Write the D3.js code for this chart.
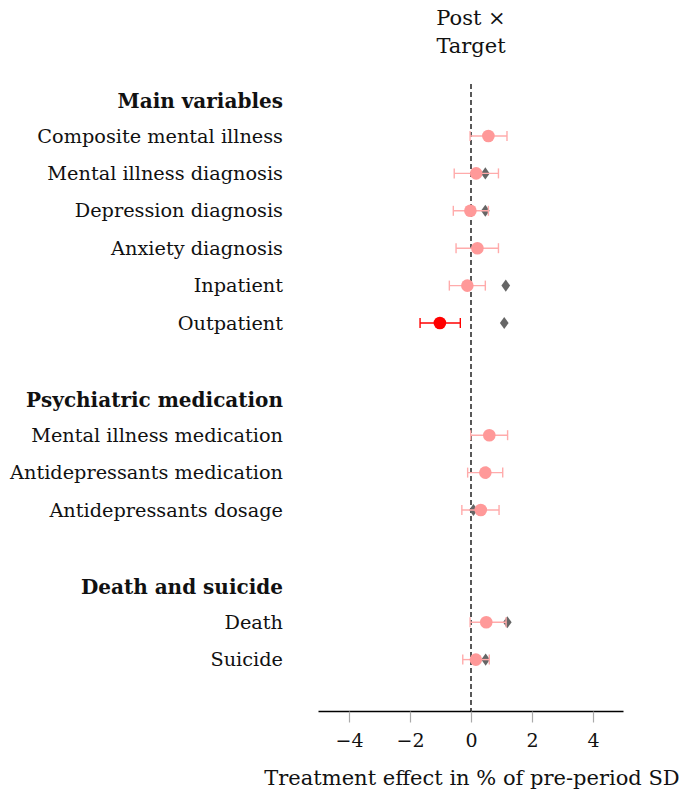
<!DOCTYPE html>
<html>
<head>
<meta charset="utf-8">
<script src="https://cdn.jsdelivr.net/npm/d3@7"></script>
<style>
  body { margin: 0; background: #fff; }
  text { font-family: "DejaVu Serif", serif; fill: #111; }
</style>
</head>
<body>
<div id="chart"></div>
<script>
// rows of the figure, top to bottom (headers are bold, blanks are spacers)
var labels = ["Main variables", "Composite mental illness", "Mental illness diagnosis",
  "Depression diagnosis", "Anxiety diagnosis", "Inpatient", "Outpatient", "",
  "Psychiatric medication", "Mental illness medication", "Antidepressants medication",
  "Antidepressants dosage", "", "Death and suicide", "Death", "Suicide"];
var isHeader = [1,0,0,0,0,0,0,0,1,0,0,0,0,1,0,0];

// Post x Target estimate with 95% CI, and comparison estimate (diamond)
var estimate = [null, 0.57, 0.17, -0.02, 0.21, -0.12, -1.02, null, null, 0.60, 0.47, 0.32, null, null, 0.50, 0.16];
var ciLow    = [null, -0.03, -0.55, -0.58, -0.49, -0.71, -1.67, null, null, -0.01, -0.11, -0.30, null, null, -0.03, -0.27];
var ciHigh   = [null, 1.18, 0.90, 0.57, 0.90, 0.47, -0.35, null, null, 1.20, 1.04, 0.92, null, null, 1.15, 0.60];
var diamond  = [null, null, 0.47, 0.47, null, 1.14, 1.09, null, null, null, 0.50, 0.08, null, null, 1.19, 0.48];
var significant = [0,0,0,0,0,0,1,0,0,0,0,0,0,0,0,0];

var xTicks = [-4, -2, 0, 2, 4];

var width = 683, height = 796;

var svg = d3.select("#chart").append("svg")
    .attr("width", width)
    .attr("height", height);

var x = d3.scaleLinear()
    .domain([-5, 5])
    .range([318.5, 623.5]);

var y = d3.scaleLinear()
    .domain([0, 15])
    .range([98.6, 659.6]);

var axisY = 711.5;

// dashed zero line
svg.append("line")
    .attr("x1", x(0)).attr("x2", x(0))
    .attr("y1", 84).attr("y2", axisY)
    .attr("stroke", "#000")
    .attr("stroke-width", 1.3)
    .attr("stroke-dasharray", "5,3");

// axis
var xAxis = d3.axisBottom(x)
    .tickValues(xTicks)
    .tickSize(11)
    .tickPadding(11)
    .tickFormat(function(d) { return d < 0 ? "\u2212" + Math.abs(d) : d; });

var gx = svg.append("g")
    .attr("transform", "translate(0," + axisY + ")")
    .call(xAxis);
gx.select(".domain").attr("stroke", "#000").attr("stroke-width", 1.3).attr("d", "M" + x(-5) + ",0H" + x(5));
gx.selectAll(".tick line").attr("stroke", "#aaa").attr("stroke-width", 1.2);
gx.selectAll(".tick text")
    .style("font-family", "DejaVu Serif, serif")
    .style("font-size", "19px")
    .attr("fill", "#111");

svg.append("text")
    .attr("x", 472).attr("y", 785)
    .attr("text-anchor", "middle")
    .style("font-size", "21px")
    .text("Treatment effect in % of pre-period SD");

// column title
svg.append("text")
    .attr("x", x(0)).attr("y", 25)
    .attr("text-anchor", "middle")
    .style("font-size", "21px")
    .text("Post \u00d7");
svg.append("text")
    .attr("x", x(0)).attr("y", 53)
    .attr("text-anchor", "middle")
    .style("font-size", "21px")
    .text("Target");

// row labels
svg.selectAll(".label")
    .data(labels)
  .enter().append("text")
    .attr("class", "label")
    .attr("x", 283)
    .attr("y", function(d, i) { return y(i) + (isHeader[i] ? 9.5 : 6.5); })
    .attr("text-anchor", "end")
    .style("font-size", function(d, i) { return isHeader[i] ? "20px" : "19.3px"; })
    .style("font-weight", function(d, i) { return isHeader[i] ? "bold" : "normal"; })
    .text(function(d) { return d; });

var rows = d3.range(labels.length).filter(function(i) { return estimate[i] != null; });

// diamonds
svg.selectAll(".diamond")
    .data(rows.filter(function(i) { return diamond[i] != null; }))
  .enter().append("path")
    .attr("class", "diamond")
    .attr("d", d3.symbol(d3.symbolDiamond).size(42))
    .attr("transform", function(i) { return "translate(" + x(diamond[i]) + "," + y(i) + ") scale(1.25,1)"; })
    .attr("fill", "#666");

function col(i, light) { return significant[i] ? "#ff0000" : (light ? "#ffabab" : "#ff9999"); }

// confidence intervals
var ci = svg.selectAll(".ci")
    .data(rows)
  .enter().append("g")
    .attr("class", "ci");
ci.append("line")
    .attr("x1", function(i) { return x(ciLow[i]); })
    .attr("x2", function(i) { return x(ciHigh[i]); })
    .attr("y1", function(i) { return y(i); })
    .attr("y2", function(i) { return y(i); })
    .attr("stroke", function(i) { return col(i, true); })
    .attr("stroke-width", 1.4);
ci.selectAll(".cap")
    .data(function(i) { return [[i, ciLow[i]], [i, ciHigh[i]]]; })
  .enter().append("line")
    .attr("x1", function(d) { return x(d[1]); })
    .attr("x2", function(d) { return x(d[1]); })
    .attr("y1", function(d) { return y(d[0]) - 5; })
    .attr("y2", function(d) { return y(d[0]) + 5; })
    .attr("stroke", function(d) { return col(d[0], true); })
    .attr("stroke-width", 1.4);

// point estimates
svg.selectAll(".pt")
    .data(rows)
  .enter().append("circle")
    .attr("class", "pt")
    .attr("cx", function(i) { return x(estimate[i]); })
    .attr("cy", function(i) { return y(i); })
    .attr("r", 6.3)
    .attr("fill", function(i) { return col(i, false); });
</script>
</body>
</html>
